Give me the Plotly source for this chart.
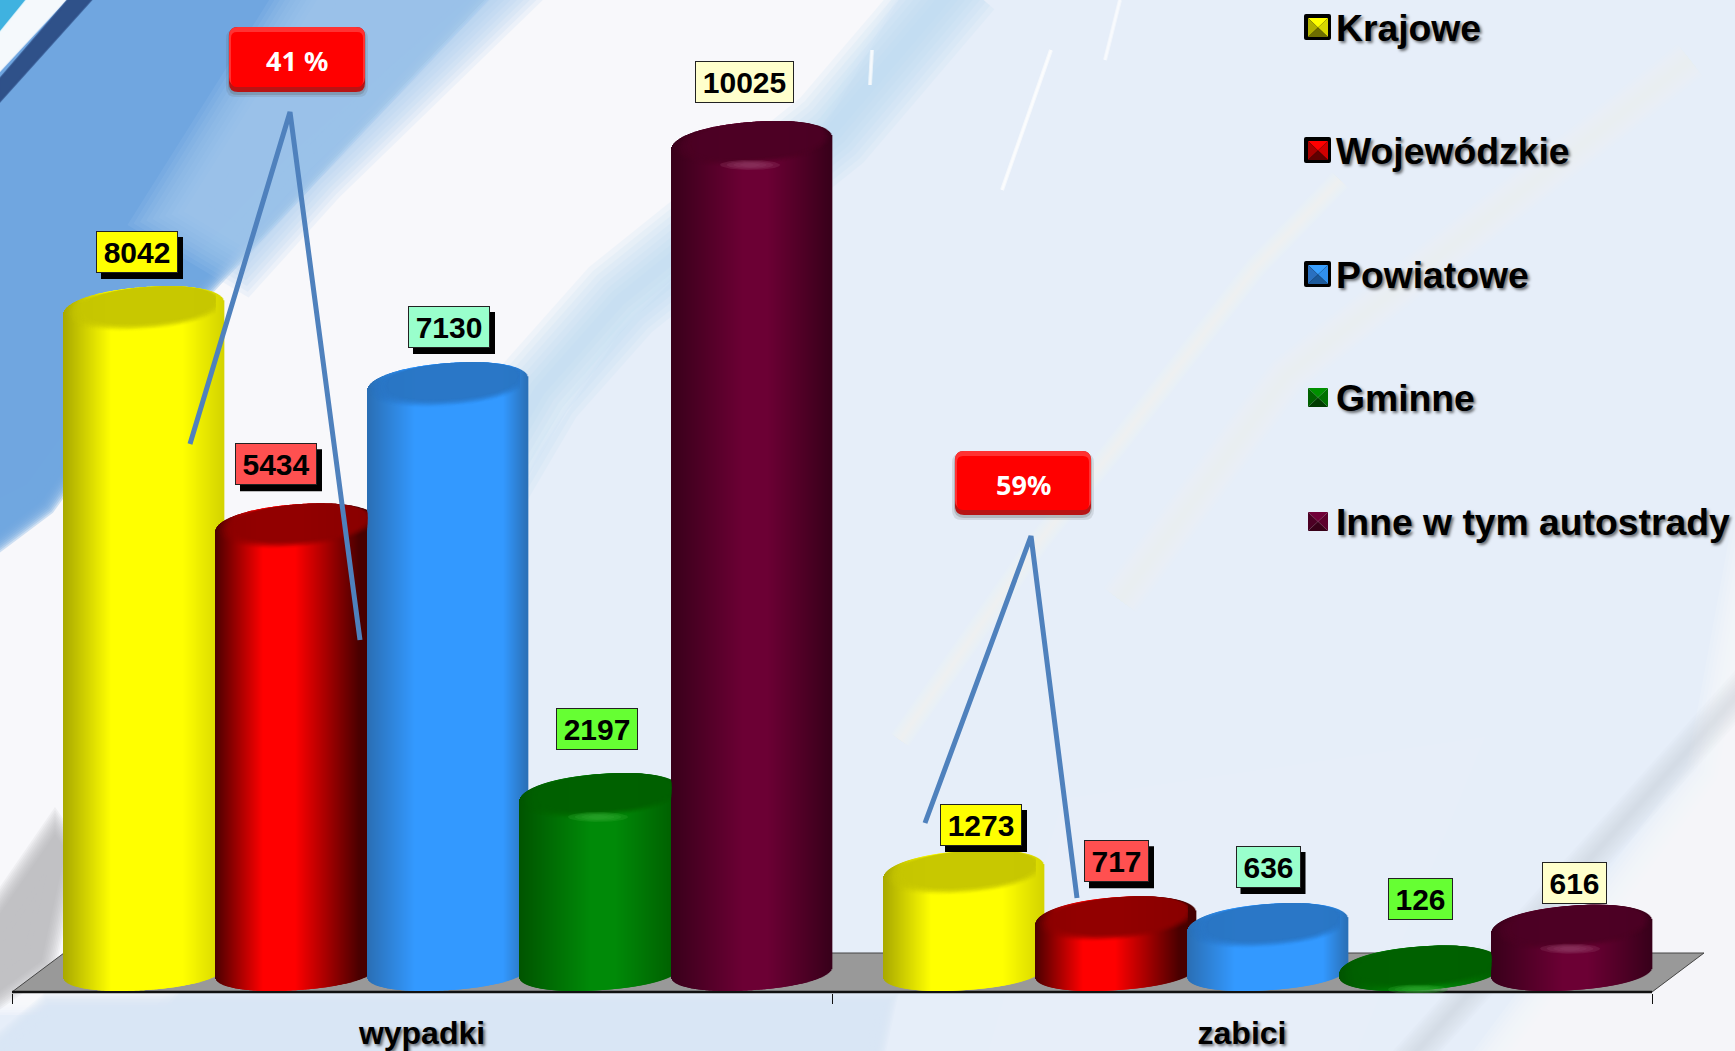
import numpy as np
import plotly.graph_objects as go

# ---- data ----
CATEGORIES = ["wypadki", "zabici"]
SERIES = ["Krajowe", "Wojewódzkie", "Powiatowe", "Gminne", "Inne w tym autostrady"]
KRAJOWE = [8042, 1273]
WOJEWODZKIE = [5434, 717]
POWIATOWE = [7130, 636]
GMINNE = [2197, 126]
INNE = [10025, 616]
CALLOUTS = ["41 %", "59%"]

VALUES = [KRAJOWE, WOJEWODZKIE, POWIATOWE, GMINNE, INNE]

# ---- geometry / style ----
W, H = 1735, 1051
AXIS_PX = 993
Y0_PX = 956.0
KPX = 0.0833
UNIT_PX = 820.0
X0_PX = 12.0
FONT = "Liberation Sans"


def px_x(v):
    return (np.asarray(v, dtype=float) - X0_PX) / UNIT_PX


def px_y(v):
    return (Y0_PX - np.asarray(v, dtype=float)) / KPX


def pa(x, y):
    return f"{x / W:.5f},{1 - y / AXIS_PX:.5f}"


def hex2rgb(c):
    c = c.lstrip("#")
    return np.array([int(c[i:i + 2], 16) for i in (0, 2, 4)], dtype=float)


def mix(a, b, t):
    r = hex2rgb(a) * (1 - t) + hex2rgb(b) * t
    return "#%02x%02x%02x" % tuple(int(round(x)) for x in r)


def rgba(c, a):
    r = hex2rgb(c)
    return f"rgba({int(r[0])},{int(r[1])},{int(r[2])},{a})"


def grad(stops, t):
    for (p0, c0), (p1, c1) in zip(stops, stops[1:]):
        if t <= p1:
            return mix(c0, c1, (t - p0) / max(p1 - p0, 1e-6))
    return stops[-1][1]


BODY = [
    [(0, "#a8a800"), (0.3, "#ffff00"), (0.75, "#ffff00"), (1, "#d4d400")],
    [(0, "#4a0000"), (0.3, "#ff0000"), (0.5, "#ff0000"), (0.9, "#4a0000"), (1, "#440000")],
    [(0, "#2a6eb4"), (0.3, "#3399ff"), (0.85, "#3399ff"), (1, "#2a70b8")],
    [(0, "#005400"), (0.45, "#008a08"), (0.6, "#008a08"), (1, "#005c00")],
    [(0, "#38001a"), (0.45, "#6c0034"), (0.6, "#6c0034"), (1, "#38001a")],
]
CAP_DARK = ["#c6c600", "#8e0000", "#2a76c4", "#006000", "#4c0024"]
GLOW = [None, None, None, "#2ea62e", "#8e3a62"]
LABEL_BG = ["#ffff00", "#ff5050", "#99ffcc", "#66ff33", "#ffffcc"]
LABEL_SHADOW = [True, True, True, False, False]
LABEL_DX = [[-7, 17], [-20, 0.5], [1, 0], [-3, 0], [-7.5, 2]]
LABEL_DY = [[13, 4], [18, 14], [14, 15], [23, 25.5], [18, 1]]
LABEL_W = [[82, 82], [82, 65], [82, 65], [82, 65], [99, 65]]
LABEL_H = 42

A_PX, STEP_PX = 80.0, 152.0
B_TOP, TILT_TOP = 22.0, 6.0
B_BOT, TILT_BOT = 18.5, 5.0
EXPO = 2.15
N = 160


def arc(u):
    return np.clip(1 - np.abs(u) ** EXPO, 0, 1) ** (1 / EXPO)


_u = np.linspace(-1, 1, 801)
R_TOP = np.max(TILT_TOP * _u + B_TOP * arc(_u))
U_PEAK = _u[np.argmax(TILT_TOP * _u + B_TOP * arc(_u))]
R_BOT = np.max(-TILT_BOT * _u + B_BOT * arc(_u))

# rim outline relative to the rim centre, px (y down)
_ur = np.linspace(-1, 1, 70)
RIM_X = np.r_[A_PX * _ur, A_PX * _ur[::-1]]
RIM_Y = np.r_[-TILT_TOP * _ur - B_TOP * arc(_ur), -TILT_TOP * _ur[::-1] + B_TOP * arc(_ur[::-1])]
PEAK_X, PEAK_Y = A_PX * U_PEAK, -R_TOP

shapes, annotations = [], []


def soft(points, color, opacity, blur=40, layers=10):
    d = "M" + " L".join(pa(x, y) for x, y in points) + " Z"
    for i in range(layers):
        w = blur * (1 - i / layers)
        shapes.append(dict(type="path", xref="paper", yref="paper", path=d, fillcolor=color,
                           line=dict(color=color, width=w), opacity=opacity, layer="below"))


def streak(points, color, opacity, width, layers=8):
    d = "M" + " L".join(pa(x, y) for x, y in points)
    for i in range(layers):
        w = width * (1 - i / layers)
        shapes.append(dict(type="path", xref="paper", yref="paper", path=d, fillcolor="rgba(0,0,0,0)",
                           line=dict(color=color, width=w), opacity=opacity, layer="below"))


# ---- background ----
soft([(-80, 560), (40, 500), (191, 290), (306, 167), (497, 0), (905, -60), (800, 120), (600, 317),
      (520, 440), (420, 640), (300, 800), (150, 990), (-80, 990)], "#fbfbfe", 0.3, blur=50)
soft([(-80, -80), (540, -80), (306, 167), (191, 290), (40, 500), (-80, 590)], "#6ea6e0", 0.3, blur=36)
soft([(360, -60), (540, -60), (306, 167), (240, 240), (190, 210)], "#a8ccef", 0.14, blur=90)
streak([(960, -20), (832, 130), (620, 300), (540, 390), (440, 560)], "#b8daf2", 0.14, 90)
soft([(-60, 1100), (50, 1008), (880, 1008), (860, 1100)], "#d9e6f5", 0.2, blur=30)
soft([(-30, 960), (55, 837), (64, 850), (40, 960), (-30, 1010)], "#b0b0b4", 0.12, blur=34)
soft([(1010, 1100), (1090, 830), (1430, 780), (1300, 1100)], "#eef1fa", 0.12, blur=70)
soft([(1720, 780), (1790, 400), (1790, 1100), (1480, 1100)], "#fbfbfd", 0.16, blur=70)
streak([(1760, 670), (1400, 1070)], "#c8ced8", 0.07, 36)
streak([(1340, 180), (1256, 267), (1113, 450), (1040, 540), (900, 740)], "#fbfaf0", 0.09, 22)
streak([(1690, 60), (1287, 375), (1120, 600)], "#f6f6f0", 0.07, 40)
streak([(1051, 50), (1002, 190)], "#ffffff", 0.6, 4, layers=2)
streak([(872, 50), (870, 85)], "#ffffff", 0.6, 4, layers=2)
streak([(1120, 0), (1105, 60)], "#ffffff", 0.5, 4, layers=2)
soft([(0, 0), (27, 0), (0, 33)], "#3ab4e0", 0.5, blur=3, layers=3)
soft([(27, 0), (65, 0), (0, 70), (0, 33)], "#ffffff", 0.6, blur=3, layers=3)
soft([(69, 0), (90, 0), (0, 100), (0, 80)], "#2c4c84", 0.6, blur=4, layers=3)

# ---- floor ----
shapes.append(dict(type="path", xref="paper", yref="paper", layer="below",
                   path=f"M{pa(12, 992)} L{pa(64, 953)} L{pa(1704, 953)} L{pa(1652, 992)} Z",
                   fillcolor="#999999", line=dict(color="#444444", width=1)))
shapes.append(dict(type="line", xref="paper", yref="paper", layer="below",
                   x0=12 / W, x1=1652 / W, y0=1 - 992 / AXIS_PX, y1=1 - 992 / AXIS_PX,
                   line=dict(color="#111111", width=2.5)))

# ---- cylinders ----
fig = go.Figure()
for g, cat in enumerate(CATEGORIES):
    for i, name in enumerate(SERIES):
        v = VALUES[i][g]
        cx_off = (26 + (i - 2) * STEP_PX)
        cx = g + 0.5 + cx_off / UNIT_PX
        cx_px = X0_PX + cx * UNIT_PX
        peak_px = Y0_PX - v * KPX
        cy_top = peak_px + R_TOP
        cy_bot = 991 - R_BOT

        u = (np.arange(N) + 0.5) / N * 2 - 1
        top_px = cy_top - TILT_TOP * u - B_TOP * arc(u)
        bot_px = cy_bot - TILT_BOT * u + B_BOT * arc(u)
        fig.add_trace(go.Bar(
            x=cx + u * A_PX / UNIT_PX,
            y=px_y(top_px) - px_y(bot_px),
            base=px_y(bot_px),
            width=1.7 * 2 * A_PX / N / UNIT_PX,
            marker=dict(color=[grad(BODY[i], (t + 1) / 2) for t in u], line=dict(width=0)),
            hoverinfo="skip", showlegend=False, name=name))

        # top surface: the rim outline scaled about its highest point, darkening inward
        th = np.linspace(0, 2 * np.pi, 120)
        rings = 9
        limit = cx_px + STEP_PX - A_PX if i < 4 else cx_px + A_PX
        for k in range(rings):
            f = k / (rings - 1)
            s = 0.99 - 0.17 * f
            xx = cx_px + PEAK_X + s * (RIM_X - PEAK_X)
            xx = np.minimum(xx, limit)
            yy = peak_px + s * (RIM_Y - PEAK_Y)
            alpha = 0.05 + 0.45 * f
            col = rgba(CAP_DARK[i], round(alpha, 3))
            fig.add_trace(go.Scatter(x=px_x(xx), y=px_y(yy), mode="lines", fill="toself",
                                     fillcolor=col, line=dict(width=0, color=col),
                                     hoverinfo="skip", showlegend=False))
        if GLOW[i]:
            for k in range(4):
                t = k / 3
                xx = cx_px - 2 + (30 - 20 * t) * np.cos(th)
                yy = peak_px + 44 + (5 - 3 * t) * np.sin(th)
                col = rgba(GLOW[i], 0.3)
                fig.add_trace(go.Scatter(x=px_x(xx), y=px_y(yy), mode="lines", fill="toself",
                                         fillcolor=col, line=dict(width=0, color=col),
                                         hoverinfo="skip", showlegend=False))

        # value label
        dx, dy = LABEL_DX[i][g], LABEL_DY[i][g]
        lw = LABEL_W[i][g]
        if LABEL_SHADOW[i]:
            shapes.append(dict(type="rect", xref="x", yref="y", xsizemode="pixel", ysizemode="pixel",
                               xanchor=cx, yanchor=v,
                               x0=dx - lw / 2 + 5, x1=dx + lw / 2 + 5,
                               y0=dy - 6, y1=dy + LABEL_H - 6,
                               fillcolor="#000000", line=dict(width=0), layer="above"))
        annotations.append(dict(x=cx, y=v, xref="x", yref="y", text=str(v), showarrow=False,
                                xanchor="center", yanchor="bottom", xshift=dx, yshift=dy,
                                width=lw - 2, height=LABEL_H - 2, bgcolor=LABEL_BG[i],
                                bordercolor="#222222", borderwidth=1, borderpad=0,
                                font=dict(family=FONT, size=30, color="#000000", weight=700)))

# ---- callout lines ----
for pts in ([(190, 444), (290, 112), (360, 640)], [(925, 823), (1031, 536), (1077, 898)]):
    shapes.append(dict(type="path", xref="paper", yref="paper", layer="above",
                       path="M" + " L".join(pa(x, y) for x, y in pts),
                       fillcolor="rgba(0,0,0,0)", line=dict(color="#4f81bd", width=5)))


def rrect(x0, y0, x1, y1, r):
    return (f"M{pa(x0 + r, y0)} L{pa(x1 - r, y0)} Q{pa(x1, y0)} {pa(x1, y0 + r)} "
            f"L{pa(x1, y1 - r)} Q{pa(x1, y1)} {pa(x1 - r, y1)} L{pa(x0 + r, y1)} "
            f"Q{pa(x0, y1)} {pa(x0, y1 - r)} L{pa(x0, y0 + r)} Q{pa(x0, y0)} {pa(x0 + r, y0)} Z")


for label, (x0, y0, x1, y1) in zip(CALLOUTS, [(229, 27, 365, 92), (955, 451, 1091, 515)]):
    for s, col, op in [(5, "#555555", 0.15), (3, "#555555", 0.25)]:
        shapes.append(dict(type="path", xref="paper", yref="paper", layer="above",
                           path=rrect(x0 - s + 2, y0 + 2, x1 + s - 2, y1 + s, 10),
                           fillcolor=col, opacity=op, line=dict(width=0)))
    shapes.append(dict(type="path", xref="paper", yref="paper", layer="above",
                       path=rrect(x0, y0, x1, y1, 9), fillcolor="#b81414", line=dict(width=0)))
    shapes.append(dict(type="path", xref="paper", yref="paper", layer="above",
                       path=rrect(x0, y0, x1, y1 - 6, 9), fillcolor="#ff3232", line=dict(width=0)))
    shapes.append(dict(type="path", xref="paper", yref="paper", layer="above",
                       path=rrect(x0 + 2, y0 + 5, x1 - 2, y1 - 5, 6), fillcolor="#ff0000", line=dict(width=0)))
    annotations.append(dict(x=(x0 + x1) / 2 / W, y=1 - ((y0 + y1) / 2 + 1) / AXIS_PX, xref="paper", yref="paper",
                            text=label, showarrow=False, xanchor="center", yanchor="middle",
                            font=dict(family="Noto Sans", size=27, color="#ffffff", weight=700)))

# ---- legend ----
LEG_Y = [28, 151, 275, 398, 522]
LEG_BOX = [True, True, True, False, False]
LEG_C = [("#ffff00", "#d8d800", "#b0b000", "#6e6e00"),
         ("#ff0000", "#d00000", "#a80000", "#600000"),
         ("#3aa0ff", "#3090ee", "#2a70c0", "#1c5a9c"),
         ("#009000", "#007000", "#006000", "#003c00"),
         ("#700038", "#5c002c", "#4c0024", "#380018")]
for name, yc, box, cols in zip(SERIES, LEG_Y, LEG_BOX, LEG_C):
    if box:
        shapes.append(dict(type="path", xref="paper", yref="paper", layer="above",
                           path=rrect(1304, yc - 14, 1331, yc + 12, 2), fillcolor="#000000", line=dict(width=0)))
    x0, x1, y0, y1 = 1308, 1328, yc - 10, yc + 9
    xm, ym = (x0 + x1) / 2, (y0 + y1) / 2
    for tri, col in [([(x0, y0), (x1, y0)], cols[0]), ([(x1, y0), (x1, y1)], cols[1]),
                     ([(x0, y0), (x0, y1)], cols[2]), ([(x0, y1), (x1, y1)], cols[3])]:
        shapes.append(dict(type="path", xref="paper", yref="paper", layer="above",
                           path=f"M{pa(*tri[0])} L{pa(*tri[1])} L{pa(xm, ym)} Z",
                           fillcolor=col, line=dict(width=0)))
    annotations.append(dict(x=1334 / W, y=1 - yc / AXIS_PX, xref="paper", yref="paper", text=name,
                            showarrow=False, xanchor="left", yanchor="middle",
                            font=dict(family=FONT, size=37.3, color="#000000", weight=700,
                                      shadow="2px 2px 3px rgba(0,0,0,0.55)")))

fig.update_layout(
    width=W, height=H, autosize=False,
    margin=dict(l=0, r=0, t=0, b=H - AXIS_PX, pad=0),
    paper_bgcolor="#e6eef9", plot_bgcolor="rgba(0,0,0,0)",
    barmode="overlay", showlegend=False,
    shapes=shapes, annotations=annotations,
    xaxis=dict(range=[px_x(0), px_x(W)], tickmode="array", tickvals=[0.5, 1.5], ticktext=CATEGORIES,
               ticks="", showgrid=False, zeroline=False, showline=False, ticklabelstandoff=18,
               tickfont=dict(family=FONT, size=32, color="#000000", weight=700,
                             shadow="2px 2px 3px rgba(0,0,0,0.55)"),
               minor=dict(tickmode="linear", tick0=0, dtick=1, ticks="outside", ticklen=10,
                          tickcolor="#111111", tickwidth=1, showgrid=False)),
    yaxis=dict(range=[px_y(AXIS_PX), px_y(0)], visible=False, showgrid=False, zeroline=False),
)
fig.write_html("out.html", config=dict(displayModeBar=False),
               post_script="document.body.style.margin='0';document.documentElement.style.overflow='hidden';")
